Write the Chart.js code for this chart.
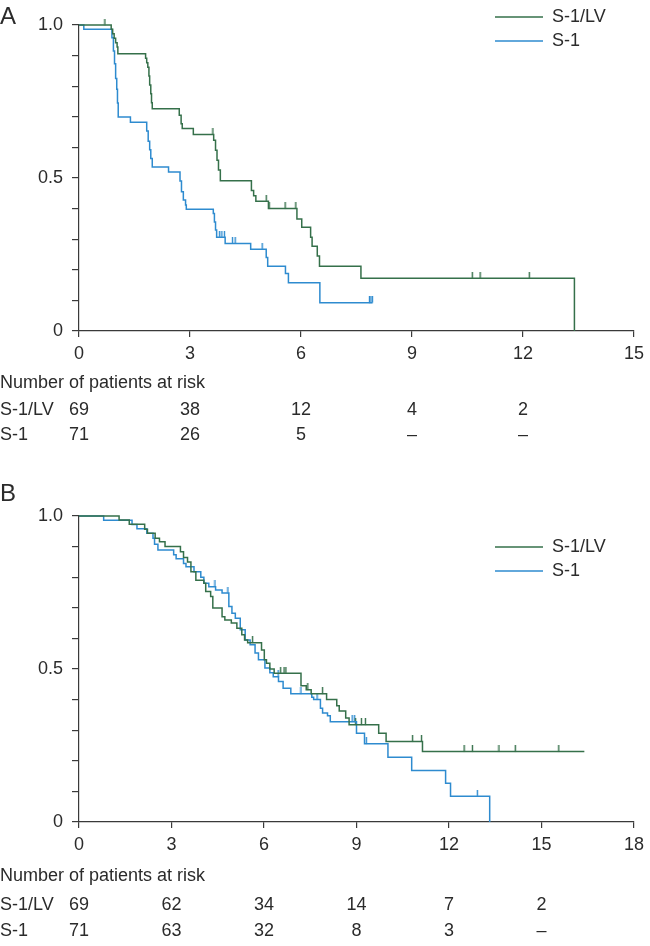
<!DOCTYPE html>
<html>
<head>
<meta charset="utf-8">
<script src="https://cdn.jsdelivr.net/npm/chart.js@4.4.1/dist/chart.umd.min.js"></script>
<style>
html, body { margin: 0; padding: 0; background: #fff; }
#wrap { position: relative; width: 650px; height: 946px; }
canvas { display: block; }
</style>
</head>
<body>
<div id="wrap">
<canvas id="chartA" width="650" height="470"></canvas>
<canvas id="chartB" width="650" height="476"></canvas>
</div>
<script>
// Kaplan-Meier curves, S-1/LV vs S-1

var seriesNames = ['S-1/LV', 'S-1'];
var seriesColors = ['#35704a', '#2e8bcf'];

// Panel A
var aTicksX = [0, 3, 6, 9, 12, 15];
var aLvTime = [0, 0.87, 0.91, 0.95, 0.99, 1.03, 1.05, 1.80, 1.83, 1.86, 1.89, 1.91, 1.94, 1.96, 1.98,
    2.71, 2.76, 2.79, 3.09, 3.64, 3.69, 3.73, 3.77, 3.82, 4.66, 4.72, 4.78, 5.12,
    5.89, 6.02, 6.26, 6.30, 6.44, 6.50, 7.62, 13.39];
var aLvSurv = [1, 0.986, 0.971, 0.957, 0.942, 0.928, 0.906, 0.891, 0.877, 0.862, 0.833, 0.804, 0.775, 0.746, 0.726,
    0.705, 0.677, 0.662, 0.642, 0.623, 0.591, 0.558, 0.526, 0.491, 0.459, 0.442, 0.424, 0.400,
    0.366, 0.339, 0.306, 0.277, 0.245, 0.212, 0.172, 0];
var aLvCensTime = [0.70, 3.62, 5.06, 5.14, 5.57, 5.86, 10.63, 10.84, 12.17];
var aLvCensSurv = [1, 0.642, 0.424, 0.400, 0.400, 0.400, 0.172, 0.172, 0.172];

var aS1Time = [0, 0.13, 0.89, 0.93, 0.96, 0.99, 1.02, 1.04, 1.06, 1.39, 1.83, 1.87, 1.91, 1.94, 1.98,
    2.42, 2.73, 2.77, 2.82, 2.88, 2.90, 3.63, 3.66, 3.69, 3.72, 3.95, 4.64, 5.06, 5.10,
    5.58, 5.66, 6.51, 7.93];
var aS1Surv = [1, 0.986, 0.958, 0.915, 0.873, 0.825, 0.790, 0.745, 0.699, 0.682, 0.654, 0.620, 0.592, 0.564, 0.536,
    0.520, 0.490, 0.455, 0.428, 0.412, 0.398, 0.384, 0.356, 0.330, 0.306, 0.286, 0.267, 0.240, 0.212,
    0.188, 0.158, 0.092, 0.092];
var aS1CensTime = [3.80, 3.86, 3.93, 4.15, 4.22, 4.95, 7.85, 7.89, 7.93];
var aS1CensSurv = [0.306, 0.306, 0.306, 0.286, 0.286, 0.267, 0.092, 0.092, 0.092];

var aRiskTime = [0, 3, 6, 9, 12];
var aRiskLv = ['69', '38', '12', '4', '2'];
var aRiskS1 = ['71', '26', '5', '\u2013', '\u2013'];

// Panel B
var bTicksX = [0, 3, 6, 9, 12, 15, 18];
var bLvTime = [0, 1.30, 1.63, 2.13, 2.22, 2.47, 2.61, 2.79, 3.29, 3.39, 3.52, 3.63, 3.79, 4.05, 4.11,
    4.27, 4.34, 4.64, 4.73, 4.94, 5.12, 5.28, 5.37, 5.47, 5.92, 6.01, 6.08, 6.19, 6.33, 7.20,
    7.37, 7.53, 8.03, 8.36, 8.44, 8.65, 8.76, 9.72, 9.96, 11.14, 16.39];
var bLvSurv = [1, 0.987, 0.973, 0.957, 0.944, 0.927, 0.916, 0.900, 0.883, 0.864, 0.850, 0.818, 0.790, 0.780, 0.753,
    0.737, 0.699, 0.671, 0.660, 0.650, 0.633, 0.612, 0.595, 0.586, 0.562, 0.530, 0.519, 0.500, 0.486, 0.445,
    0.432, 0.419, 0.400, 0.380, 0.363, 0.340, 0.318, 0.290, 0.263, 0.230, 0.230];
var bLvCensTime = [5.63, 6.54, 6.65, 6.71, 7.42, 7.90, 8.97, 9.16, 9.29, 10.82, 11.11, 12.49, 12.76, 13.62, 14.15, 15.56];
var bLvCensSurv = [0.586, 0.486, 0.486, 0.486, 0.432, 0.419, 0.318, 0.318, 0.318, 0.263, 0.263, 0.230, 0.230, 0.230, 0.230, 0.230];

var bS1Time = [0, 0.80, 1.72, 1.88, 2.20, 2.40, 2.45, 2.56, 3.07, 3.15, 3.39, 3.47, 3.73, 3.95, 4.05,
    4.21, 4.43, 4.64, 4.86, 4.96, 5.07, 5.23, 5.39, 5.55, 5.71, 5.82, 6.03, 6.19, 6.30, 6.47,
    6.62, 6.87, 7.55, 7.61, 7.83, 7.90, 8.06, 8.15, 9.00, 9.26, 10.02, 10.79, 11.89, 12.05, 13.32];
var bS1Surv = [1, 0.986, 0.972, 0.958, 0.944, 0.927, 0.908, 0.889, 0.873, 0.860, 0.845, 0.834, 0.818, 0.800, 0.780,
    0.769, 0.758, 0.748, 0.704, 0.682, 0.666, 0.628, 0.595, 0.579, 0.552, 0.530, 0.503, 0.488, 0.475, 0.459,
    0.437, 0.419, 0.408, 0.400, 0.372, 0.356, 0.347, 0.328, 0.290, 0.256, 0.212, 0.168, 0.127, 0.084, 0];
var bS1CensTime = [4.41, 4.83, 6.46, 7.20, 7.72, 8.86, 8.94, 9.32, 12.92];
var bS1CensSurv = [0.769, 0.748, 0.475, 0.419, 0.400, 0.328, 0.328, 0.256, 0.084];

var bRiskTime = [0, 3, 6, 9, 12, 15];
var bRiskLv = ['69', '62', '34', '14', '7', '2'];
var bRiskS1 = ['71', '63', '32', '8', '3', '\u2013'];

var FONT = '"Liberation Sans", Arial, sans-serif';
var TEXT = '#2b2b2b';
var AXIS = '#3a3a3a';

// small vertical tick, drawn above the point, used for censored patients
function censorMark(color) {
    var c = document.createElement('canvas');
    c.width = 3;
    c.height = 13;
    var g = c.getContext('2d');
    g.strokeStyle = color;
    g.lineWidth = 1.4;
    g.beginPath();
    g.moveTo(1.5, 0);
    g.lineTo(1.5, 6.5);
    g.stroke();
    return c;
}

function toPoints(t, s) {
    var pts = [];
    for (var i = 0; i < t.length; i++) pts.push({ x: t[i], y: s[i] });
    return pts;
}

function curve(label, t, s, color) {
    return {
        type: 'line', label: label, data: toPoints(t, s),
        borderColor: color, backgroundColor: color, borderWidth: 1.5,
        stepped: true, pointRadius: 0, fill: false, clip: false
    };
}

function censors(label, t, s, color) {
    return {
        type: 'scatter', label: label, data: toPoints(t, s),
        pointStyle: censorMark(color), pointRadius: 5, showLine: false, clip: false
    };
}

// panel letter, legend and number-at-risk table
var extrasPlugin = {
    id: 'kmExtras',
    afterDraw: function (chart) {
        var o = chart.options.plugins.kmExtras;
        var ctx = chart.ctx;
        var xs = chart.scales.x;
        ctx.save();
        ctx.fillStyle = TEXT;
        ctx.font = '24px ' + FONT;
        ctx.textBaseline = 'alphabetic';
        ctx.textAlign = 'left';
        ctx.fillText(o.letter, 0, o.letterY);

        ctx.font = '18px ' + FONT;
        ctx.textBaseline = 'middle';
        for (var i = 0; i < seriesNames.length; i++) {
            var y = o.legendY[i];
            ctx.strokeStyle = seriesColors[i];
            ctx.lineWidth = 1.5;
            ctx.beginPath();
            ctx.moveTo(495, y);
            ctx.lineTo(543, y);
            ctx.stroke();
            ctx.fillText(seriesNames[i], 552, y);
        }

        ctx.fillText('Number of patients at risk', 0, o.tableY[0]);
        var rows = [o.riskLv, o.riskS1];
        for (var r = 0; r < 2; r++) {
            var ry = o.tableY[r + 1];
            ctx.textAlign = 'left';
            ctx.fillText(seriesNames[r], 0, ry);
            ctx.textAlign = 'center';
            for (var k = 0; k < o.riskTime.length; k++) {
                ctx.fillText(rows[r][k], xs.getPixelForValue(o.riskTime[k]), ry);
            }
        }
        ctx.restore();
    }
};

function makeChart(id, xMax, padTop, padBottom, datasets, extras) {
    var canvas = document.getElementById(id);
    return new Chart(canvas.getContext('2d'), {
        data: { datasets: datasets },
        plugins: [extrasPlugin],
        options: {
            responsive: false,
            animation: false,
            devicePixelRatio: 1,
            layout: { padding: { left: 0, right: 9, top: padTop, bottom: padBottom } },
            plugins: {
                legend: { display: false },
                tooltip: { enabled: false },
                kmExtras: extras
            },
            scales: {
                x: {
                    type: 'linear', min: 0, max: xMax,
                    afterFit: function (s) { s.height = 30; },
                    afterBuildTicks: function (s) {
                        s.ticks = extras.ticksX.map(function (v) { return { value: v }; });
                    },
                    ticks: { color: TEXT, font: { family: FONT, size: 18 }, padding: 6, maxRotation: 0 },
                    grid: { drawOnChartArea: false, drawTicks: true, tickLength: 6, color: AXIS, lineWidth: 1.2 },
                    border: { color: AXIS, width: 1.2 }
                },
                y: {
                    min: 0, max: 1,
                    afterFit: function (s) { s.width = 79; },
                    ticks: {
                        stepSize: 0.1, color: TEXT, font: { family: FONT, size: 18 }, padding: 9,
                        callback: function (v) {
                            if (Math.abs(v) < 1e-9) return '0';
                            if (Math.abs(v - 0.5) < 1e-9) return '0.5';
                            if (Math.abs(v - 1) < 1e-9) return '1.0';
                            return '';
                        }
                    },
                    grid: { drawOnChartArea: false, drawTicks: true, tickLength: 7, color: AXIS, lineWidth: 1.2 },
                    border: { color: AXIS, width: 1.2 }
                }
            }
        }
    });
}

makeChart('chartA', 15, 25, 109, [
    curve(seriesNames[0], aLvTime, aLvSurv, seriesColors[0]),
    curve(seriesNames[1], aS1Time, aS1Surv, seriesColors[1]),
    censors('cens LV', aLvCensTime, aLvCensSurv, seriesColors[0]),
    censors('cens S1', aS1CensTime, aS1CensSurv, seriesColors[1])
], {
    letter: 'A', letterY: 24, legendY: [17, 41], tableY: [383, 410, 435],
    ticksX: aTicksX, riskTime: aRiskTime, riskLv: aRiskLv, riskS1: aRiskS1
});

makeChart('chartB', 18, 46, 94, [
    curve(seriesNames[0], bLvTime, bLvSurv, seriesColors[0]),
    curve(seriesNames[1], bS1Time, bS1Surv, seriesColors[1]),
    censors('cens LV', bLvCensTime, bLvCensSurv, seriesColors[0]),
    censors('cens S1', bS1CensTime, bS1CensSurv, seriesColors[1])
], {
    letter: 'B', letterY: 31, legendY: [77, 101], tableY: [406, 435, 461],
    ticksX: bTicksX, riskTime: bRiskTime, riskLv: bRiskLv, riskS1: bRiskS1
});
</script>
</body>
</html>
